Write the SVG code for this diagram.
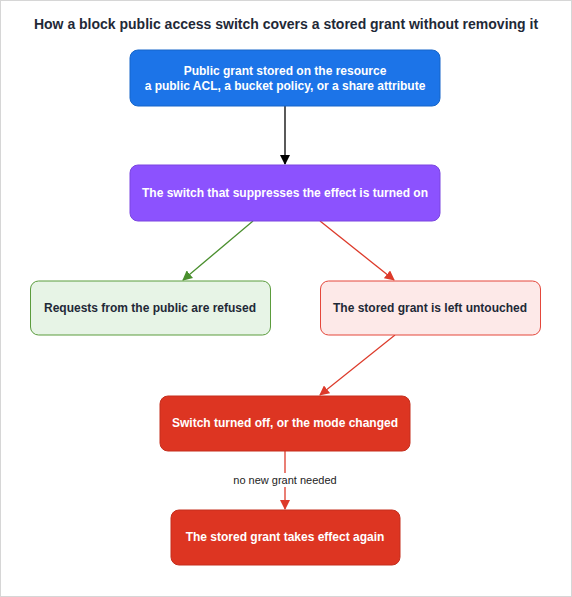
<svg xmlns="http://www.w3.org/2000/svg" width="572" height="597" viewBox="0 0 572 597">
<defs>
<style>
.t{font-family:"Liberation Sans",Arial,sans-serif;font-weight:bold;font-size:12px;text-anchor:middle}
.w{fill:#ffffff}
.d{fill:#1f2937}
.title{font-family:"Liberation Sans",Arial,sans-serif;font-weight:bold;font-size:14px;text-anchor:middle;fill:#1f2937}
.lbl{font-family:"Liberation Sans",Arial,sans-serif;font-size:11px;text-anchor:middle;fill:#222}
</style>
<marker id="ak" viewBox="0 0 10 10" refX="9" refY="5" markerWidth="10" markerHeight="10" markerUnits="userSpaceOnUse" orient="auto"><path d="M0,0 L10,5 L0,10 z" fill="#000"/></marker>
<marker id="ag" viewBox="0 0 10 10" refX="9" refY="5" markerWidth="10" markerHeight="10" markerUnits="userSpaceOnUse" orient="auto"><path d="M0,0 L10,5 L0,10 z" fill="#4a8f2e"/></marker>
<marker id="ar" viewBox="0 0 10 10" refX="9" refY="5" markerWidth="10" markerHeight="10" markerUnits="userSpaceOnUse" orient="auto"><path d="M0,0 L10,5 L0,10 z" fill="#dd3a2a"/></marker>
</defs>
<rect x="0.5" y="0.5" width="571" height="596" fill="#fff" stroke="#d6d6d6"/>
<text class="title" x="286" y="29">How a block public access switch covers a stored grant without removing it</text>
<g id="connectors" fill="none" stroke-width="1.3">
<line x1="285" y1="106" x2="285" y2="164" stroke="#000" marker-end="url(#ak)"/>
<line x1="253" y1="221" x2="183" y2="280" stroke="#4a8f2e" marker-end="url(#ag)"/>
<line x1="320" y1="221" x2="394" y2="280" stroke="#dd3a2a" marker-end="url(#ar)"/>
<line x1="395" y1="335" x2="320" y2="395" stroke="#dd3a2a" marker-end="url(#ar)"/>
<line x1="285" y1="451" x2="285" y2="509" stroke="#dd3a2a" marker-end="url(#ar)"/>
<rect x="230" y="473" width="110" height="14" fill="#fff" stroke="none"/>
<text class="lbl" x="285" y="484">no new grant needed</text>
</g>
<g id="n1">
<rect x="130" y="50" width="310" height="56" rx="8" fill="#1c74e8" stroke="#1565c9"/>
<text class="t w" x="285" y="75">Public grant stored on the resource</text>
<text class="t w" x="285" y="90">a public ACL, a bucket policy, or a share attribute</text>
</g>
<g id="n2">
<rect x="130" y="165" width="310" height="56" rx="8" fill="#8c52fe" stroke="#7a45e0"/>
<text class="t w" x="285" y="197">The switch that suppresses the effect is turned on</text>
</g>
<g id="n3">
<rect x="30.5" y="281" width="240" height="54" rx="8" fill="#e7f4e6" stroke="#5b9c3d"/>
<text class="t d" x="150" y="312">Requests from the public are refused</text>
</g>
<g id="n4">
<rect x="320.5" y="281" width="220" height="54" rx="8" fill="#fde9e8" stroke="#e4473b"/>
<text class="t d" x="430" y="312">The stored grant is left untouched</text>
</g>
<g id="n5">
<rect x="160" y="396" width="250" height="55" rx="8" fill="#dd3522" stroke="#c52e1d"/>
<text class="t w" x="285" y="427">Switch turned off, or the mode changed</text>
</g>
<g id="n6">
<rect x="171" y="510" width="229" height="55" rx="8" fill="#dd3522" stroke="#c52e1d"/>
<text class="t w" x="285" y="541">The stored grant takes effect again</text>
</g>
</svg>
